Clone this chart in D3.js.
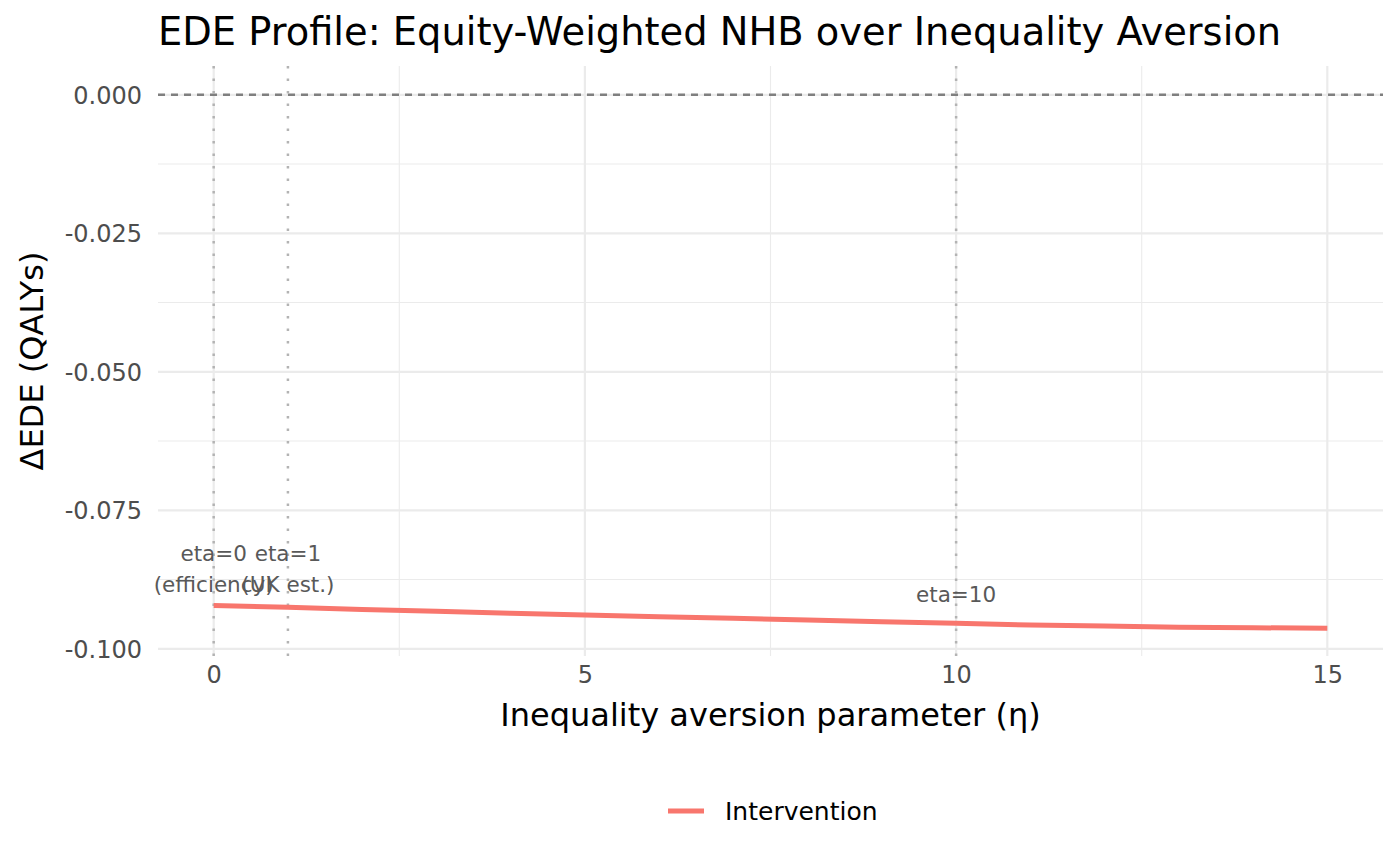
<!DOCTYPE html>
<html><head><meta charset="utf-8">
<script src="https://cdn.jsdelivr.net/npm/d3@7"></script>
<style>body{margin:0;background:#fff;} text{font-family:"DejaVu Sans",sans-serif;}</style>
</head><body><svg id="c" width="1400" height="866"></svg>
<script>
const etaValues = [0,1,2,3,4,5,6,7,8,9,10,11,12,13,14,15];
const edeValues = [-0.0922,-0.0925,-0.0929,-0.0932,-0.0936,-0.0939,-0.0942,-0.0945,-0.0948,-0.0951,-0.0954,-0.0957,-0.0959,-0.0961,-0.0962,-0.0963];
const seriesName = "Intervention";
const xTicks = [0,5,10,15];
const xMinor = [2.5,7.5,12.5];
const yTicks = [0,-0.025,-0.05,-0.075,-0.1];
const yMinor = [-0.0125,-0.0375,-0.0625,-0.0875];
const refEtas = [0,1,10];
const refLabels = [["eta=0","(efficiency)"],["eta=1","(UK est.)"],["eta=10"]];

const svg = d3.select("#c");
const L=158, R=1383, T=66, B=656;
const x = d3.scaleLinear().domain([-0.75,15.75]).range([L,R]);
const y = d3.scaleLinear().domain([0.0052,-0.1013]).range([T,B]);

const g = svg.append("g");
g.selectAll(".xmin").data(xMinor).join("line").attr("x1",d=>x(d)).attr("x2",d=>x(d)).attr("y1",T).attr("y2",B).attr("stroke","#ebebeb").attr("stroke-width",1.1);
g.selectAll(".ymin").data(yMinor).join("line").attr("y1",d=>y(d)).attr("y2",d=>y(d)).attr("x1",L).attr("x2",R).attr("stroke","#ebebeb").attr("stroke-width",1.1);
g.selectAll(".xmaj").data(xTicks).join("line").attr("x1",d=>x(d)).attr("x2",d=>x(d)).attr("y1",T).attr("y2",B).attr("stroke","#ebebeb").attr("stroke-width",2.2);
g.selectAll(".ymaj").data(yTicks).join("line").attr("y1",d=>y(d)).attr("y2",d=>y(d)).attr("x1",L).attr("x2",R).attr("stroke","#ebebeb").attr("stroke-width",2.2);

// zero line
g.append("line").attr("x1",L).attr("x2",R).attr("y1",y(0)).attr("y2",y(0)).attr("stroke","#7f7f7f").attr("stroke-width",2.5).attr("stroke-dasharray","7,6");
// ref lines
g.selectAll(".ref").data(refEtas).join("line").attr("x1",d=>x(d)).attr("x2",d=>x(d)).attr("y1",T).attr("y2",B).attr("stroke","#b3b3b3").attr("stroke-width",2.5).attr("stroke-dasharray","2.5,10");

// line
const line = d3.line().x((d,i)=>x(etaValues[i])).y(d=>y(d));
g.append("path").datum(edeValues).attr("d",line).attr("fill","none").attr("stroke","#F8766D").attr("stroke-width",5);

// annotations
refLabels.forEach((lab,i)=>{
  const t = g.append("text").attr("text-anchor","middle").attr("fill","#595959").attr("font-size",21.5);
  const base = lab.length===2 ? y(-0.0842) : y(-0.0915);
  lab.forEach((s,j)=>t.append("tspan").attr("x",x(refEtas[i])).attr("y",base + j*30.5).text(s));
});

// axes
const xa = svg.append("g").attr("transform",`translate(0,${B})`).call(d3.axisBottom(x).tickValues(xTicks).tickSize(0).tickPadding(10).tickFormat(d3.format("d")));
xa.select(".domain").remove();
xa.selectAll("text").attr("font-size",24).attr("fill","#4d4d4d").attr("font-family","DejaVu Sans");
const ya = svg.append("g").attr("transform",`translate(${L},0)`).call(d3.axisLeft(y).tickValues(yTicks).tickSize(0).tickPadding(16).tickFormat(d=>d3.format(".3f")(d).replace("\u2212","-")));
ya.select(".domain").remove();
ya.selectAll("text").attr("font-size",24).attr("fill","#4d4d4d").attr("font-family","DejaVu Sans").attr("dy","0.36em");

// titles
svg.append("text").attr("x",L).attr("y",45).attr("font-size",38.4).attr("fill","#000").text("EDE Profile: Equity-Weighted NHB over Inequality Aversion");
svg.append("text").attr("x",(L+R)/2).attr("y",726).attr("text-anchor","middle").attr("font-size",32).attr("fill","#000").text("Inequality aversion parameter (η)");
svg.append("text").attr("transform",`translate(43,${(T+B)/2}) rotate(-90)`).attr("text-anchor","middle").attr("font-size",32).attr("fill","#000").text("ΔEDE (QALYs)");

// legend
svg.append("line").attr("x1",668).attr("x2",704).attr("y1",811).attr("y2",811).attr("stroke","#F8766D").attr("stroke-width",5);
svg.append("text").attr("x",725).attr("y",811).attr("dy","0.36em").attr("font-size",25).attr("fill","#000").text(seriesName);
</script></body></html>
